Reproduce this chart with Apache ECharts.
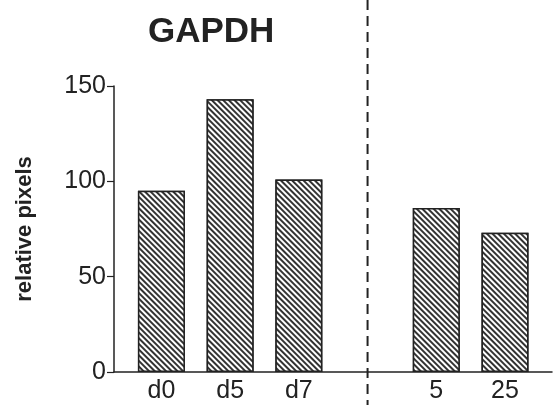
<!DOCTYPE html>
<html>
<head>
<meta charset="utf-8">
<script src="https://cdn.jsdelivr.net/npm/echarts@6/dist/echarts.min.js"></script>
<style>
html,body{margin:0;padding:0;background:#fff;}
#main{width:555px;height:405px;}
</style>
</head>
<body>
<div id="main"></div>
<script>
var chart = echarts.init(document.getElementById("main"));

// categories on the x axis, an empty slot marks the dashed separator
var categories = ['d0', 'd5', 'd7', '', '5', '25'];
var values = [95, 143, 101, null, 86, 73];
var yTicks = [0, 50, 100, 150];
var sepIndex = 3;

var barData = [];
var labelPos = [];
for (var i = 0; i < categories.length; i++) {
    if (values[i] != null) {
        barData.push([i, values[i]]);
        labelPos.push(i);
    }
}

var ink = '#222';

var option = {
    backgroundColor: '#fff',
    animation: false,
    title: {
        text: 'GAPDH',
        left: 143,
        top: 10,
        textStyle: {
            fontFamily: 'Liberation Sans',
            fontSize: 35,
            fontWeight: 'bold',
            color: ink
        }
    },
    grid: {
        left: 114,
        right: 3,
        top: 86,
        bottom: 33
    },
    xAxis: {
        type: 'value',
        min: -0.69,
        max: 5.684,
        splitLine: {show: false},
        axisLine: {onZero: false, lineStyle: {color: ink, width: 1.5}},
        axisTick: {show: false},
        axisLabel: {
            customValues: labelPos,
            margin: 7,
            fontFamily: 'Liberation Sans',
            fontSize: 25,
            color: ink,
            formatter: function (v) { return categories[v]; }
        }
    },
    yAxis: {
        type: 'value',
        min: yTicks[0],
        max: yTicks[yTicks.length - 1],
        interval: 50,
        name: 'relative pixels',
        nameLocation: 'middle',
        nameRotate: 90,
        nameGap: 78,
        nameTextStyle: {
            fontFamily: 'Liberation Sans',
            fontSize: 22,
            fontWeight: 'bold',
            color: ink,
            padding: [0, 0, 0, 0]
        },
        splitLine: {show: false},
        axisLine: {show: true, onZero: false, lineStyle: {color: ink, width: 1.5}},
        axisTick: {show: true, length: 7, lineStyle: {color: ink, width: 1.2}},
        axisLabel: {
            margin: 8,
            fontFamily: 'Liberation Sans',
            fontSize: 25,
            color: ink
        }
    },
    series: [
        {
            type: 'bar',
            data: barData,
            barWidth: 47,
            itemStyle: {
                color: '#fff',
                borderColor: ink,
                borderWidth: 1.5,
                decal: {
                    symbol: 'rect',
                    symbolSize: 1,
                    dashArrayX: [1, 0],
                    dashArrayY: [1.4, 1.4],
                    rotation: Math.PI / 4,
                    color: '#333',
                    backgroundColor: '#fff'
                }
            }
        }
    ]
};
chart.setOption(option);

// vertical dashed separator across the whole picture
var sepX = chart.convertToPixel({xAxisIndex: 0}, sepIndex);
chart.setOption({
    graphic: [{
        type: 'line',
        shape: {x1: sepX, y1: 0, x2: sepX, y2: 405},
        style: {stroke: ink, lineWidth: 2, lineDash: [10, 6]}
    }]
});
</script>
</body>
</html>
